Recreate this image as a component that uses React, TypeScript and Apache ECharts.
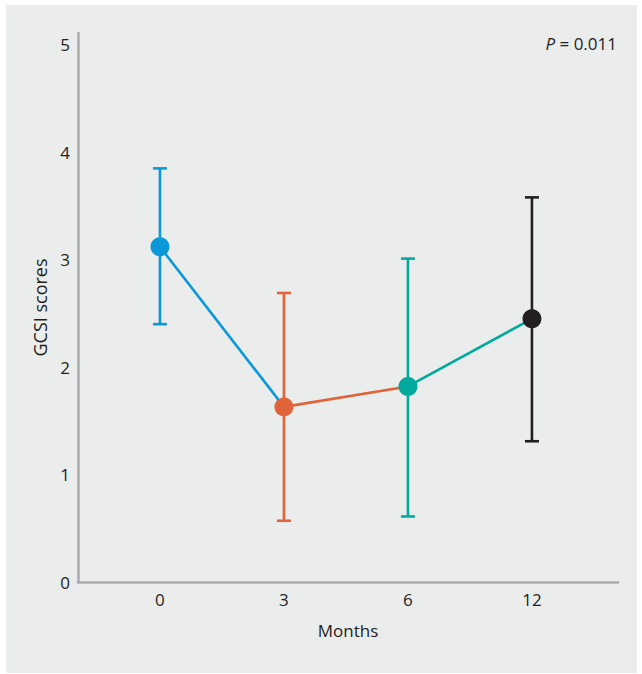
import React, { useEffect, useRef } from "react";
import * as echarts from "echarts";

const months = ["0", "3", "6", "12"];
const means = [3.12, 1.63, 1.82, 2.45];
const upper = [3.85, 2.69, 3.01, 3.58];
const lower = [2.4, 0.57, 0.61, 1.31];
const colors = ["#0a98da", "#e0633a", "#00a99d", "#231f20"];
const yTicks = [0, 1, 2, 3, 4, 5];
const pText = "0.011";

const FONT = "Open Sans";
const TEXT = "#231f20";
const AXIS = "#a9abae";

export default function App() {
  const ref = useRef<HTMLDivElement>(null);
  useEffect(() => {
    if (!ref.current) return;
    const chart = echarts.init(ref.current, null, { renderer: "svg" });
    const idx = months.map((_, i) => i);
    const segSeries = idx.slice(0, -1).map((i) => ({
      type: "line",
      data: [
        [i, means[i]],
        [i + 1, means[i + 1]],
      ],
      symbol: "none",
      lineStyle: { color: colors[i], width: 2.6 },
      z: 2,
      silent: true,
    }));
    chart.setOption({
      animation: false,
      backgroundColor: "#ffffff",
      textStyle: { fontFamily: FONT },
      graphic: [
        {
          type: "rect",
          shape: { x: 6, y: 5, width: 631, height: 668 },
          style: { fill: "#ebecec" },
          z: -10,
          silent: true,
        },
        {
          type: "text",
          x: 617,
          y: 43,
          style: {
            text: "{i|P} = " + pText,
            align: "right",
            verticalAlign: "middle",
            fill: TEXT,
            fontFamily: FONT,
            fontSize: 17,
            rich: {
              i: { fontStyle: "italic", fontFamily: FONT, fontSize: 17, fill: TEXT },
            },
          },
        },
      ],
      grid: { left: 78, right: 24, top: 33, bottom: 92, containLabel: false },
      xAxis: {
        type: "value",
        min: -0.661,
        max: 3.694,
        name: "Months",
        nameLocation: "middle",
        nameGap: 40,
        nameTextStyle: { fontSize: 17, color: TEXT, fontFamily: FONT },
        axisLine: { show: true, onZero: false, lineStyle: { color: AXIS, width: 2.5 } },
        axisTick: { show: false },
        splitLine: { show: false },
        axisLabel: {
          customValues: idx,
          formatter: (v: number) => months[Math.round(v)] ?? "",
          fontSize: 17,
          color: TEXT,
          fontFamily: FONT,
          margin: 9,
        },
      },
      yAxis: {
        type: "value",
        min: 0,
        max: 5.11,
        name: "GCSI scores",
        nameLocation: "middle",
        nameGap: 20,
        nameTextStyle: { fontSize: 18, color: TEXT, fontFamily: FONT },
        axisLine: { show: true, onZero: false, lineStyle: { color: AXIS, width: 2.5 } },
        axisTick: { show: false },
        splitLine: { show: false },
        axisLabel: {
          customValues: yTicks,
          fontSize: 17,
          color: TEXT,
          fontFamily: FONT,
          margin: 8,
        },
      },
      series: [
        ...segSeries,
        {
          type: "custom",
          data: idx.map((i) => [i, lower[i], upper[i]]),
          z: 3,
          silent: true,
          renderItem: (params: any, api: any) => {
            const i = api.value(0);
            const lo = api.coord([i, api.value(1)]);
            const hi = api.coord([i, api.value(2)]);
            const c = colors[params.dataIndex];
            const hw = 7;
            const style = { stroke: c, lineWidth: 2.6 };
            return {
              type: "group",
              children: [
                { type: "line", shape: { x1: lo[0], y1: lo[1], x2: hi[0], y2: hi[1] }, style },
                { type: "line", shape: { x1: hi[0] - hw, y1: hi[1], x2: hi[0] + hw, y2: hi[1] }, style },
                { type: "line", shape: { x1: lo[0] - hw, y1: lo[1], x2: lo[0] + hw, y2: lo[1] }, style },
              ],
            };
          },
        },
        {
          type: "scatter",
          data: idx.map((i) => ({
            value: [i, means[i]],
            itemStyle: { color: colors[i], opacity: 1 },
          })),
          symbol: "circle",
          symbolSize: 19,
          itemStyle: { opacity: 1 },
          z: 4,
          silent: true,
        },
      ],
    });
    return () => chart.dispose();
  }, []);
  return (
    <div
      ref={ref}
      style={{ position: "fixed", left: 0, top: 0, width: 642, height: 674 }}
    />
  );
}
